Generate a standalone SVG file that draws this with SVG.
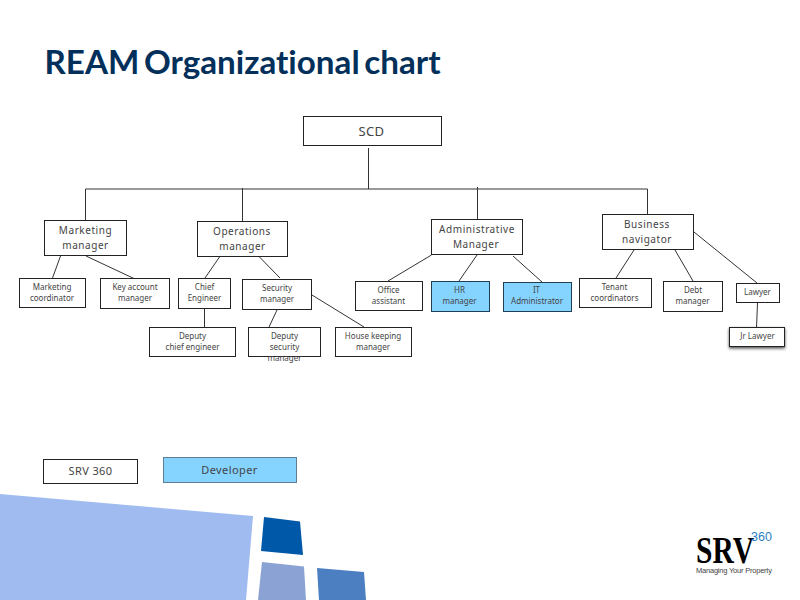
<svg xmlns="http://www.w3.org/2000/svg" width="800" height="600" viewBox="0 0 800 600">
<style>
.b{fill:#fff;stroke:#222;stroke-width:1}
.h{fill:#85d3ff;stroke:#1f3f55;stroke-width:1}
.c{fill:none;stroke:#333;stroke-width:1}
text{font-family:"Noto Sans","DejaVu Sans",sans-serif;fill:#444;text-anchor:middle}
.s{font-size:8px}
.m{font-size:10px;letter-spacing:.55px}
.l{font-size:12px;letter-spacing:.4px}
</style>
<defs><filter id="sh" x="-20%" y="-40%" width="140%" height="200%"><feDropShadow dx="0" dy="1.500" stdDeviation="1.500" flood-color="#000" flood-opacity=".7"/></filter></defs>
<rect width="800" height="600" fill="#fff"/>
<text x="44.500" y="73.500" style="font-family:Lato,'Liberation Sans',sans-serif;font-weight:700;font-size:33.200px;fill:#03305a;text-anchor:start;font-variant-ligatures:none;word-spacing:-3.500px">REAM Organizational chart</text>
<g id="connectors" class="c">
<path d="M368.500 148V189M85.500 189H647.500M85.500 189V220M242.500 188V221M477.500 187V219M647.500 189V214"/>
<path d="M60.500 256L52.500 278M86 256L135 279M219.500 257L205 278M258.500 256L280 278M204.500 309V328M277 310L269 327M312 295L364 327"/>
<path d="M431.500 255L388 281M477 255L459 281M513 256L542 282M634 250L616 278M675 250L693 281M694 232L757 283M757.500 303L756.500 328"/>
</g>
<g id="scd"><rect class="b" x="303.500" y="116.500" width="138" height="29"/><text class="l" style="font-size:13px" x="371.500" y="136">SCD</text></g>
<g id="marketing-manager"><rect class="b" x="44.500" y="220.500" width="82" height="35"/><text class="m" x="85.500" y="234">Marketing</text><text class="m" x="85.500" y="249">manager</text></g>
<g id="operations-manager"><rect class="b" x="197.500" y="221.500" width="90" height="35"/><text class="m" x="242" y="235">Operations</text><text class="m" x="242.500" y="250">manager</text></g>
<g id="administrative-manager"><rect class="b" x="431.500" y="219.500" width="91" height="35"/><text class="m" x="477" y="233">Administrative</text><text class="m" x="476" y="248">Manager</text></g>
<g id="business-navigator"><rect class="b" x="602.500" y="214.500" width="91" height="35"/><text class="m" x="647" y="228">Business</text><text class="m" x="647" y="243">navigator</text></g>
<g id="marketing-coordinator"><rect class="b" x="19.500" y="278.500" width="66" height="29"/><text class="s" x="52" y="290">Marketing</text><text class="s" x="52" y="301">coordinator</text></g>
<g id="key-account-manager"><rect class="b" x="100.500" y="278.500" width="69" height="30"/><text class="s" x="135" y="290">Key account</text><text class="s" x="135" y="301">manager</text></g>
<g id="chief-engineer"><rect class="b" x="178.500" y="278.500" width="52" height="30"/><text class="s" x="204.500" y="290">Chief</text><text class="s" x="204.500" y="301">Engineer</text></g>
<g id="security-manager"><rect class="b" x="242.500" y="279.500" width="69" height="30"/><text class="s" x="277" y="291">Security</text><text class="s" x="277" y="302">manager</text></g>
<g id="deputy-chief-engineer"><rect class="b" x="149.500" y="327.500" width="86" height="29"/><text class="s" x="192.500" y="339">Deputy</text><text class="s" x="192.500" y="350">chief engineer</text></g>
<g id="deputy-security-manager"><rect class="b" x="248.500" y="327.500" width="72" height="29"/><text class="s" x="284.500" y="339">Deputy</text><text class="s" x="284.500" y="350">security</text><text class="s" x="284.500" y="361">manager</text></g>
<g id="house-keeping-manager"><rect class="b" x="335.500" y="327.500" width="76" height="29"/><text class="s" x="373" y="339">House keeping</text><text class="s" x="373" y="350">manager</text></g>
<g id="office-assistant"><rect class="b" x="355.500" y="281.500" width="67" height="29"/><text class="s" x="388.500" y="293">Office</text><text class="s" x="388.500" y="304">assistant</text></g>
<g id="hr-manager"><rect class="h" x="431.500" y="281.500" width="58" height="30"/><text class="s" x="459.500" y="293">HR</text><text class="s" x="459.500" y="304">manager</text></g>
<g id="it-administrator"><rect class="h" x="503.500" y="282.500" width="68" height="29"/><text class="s" x="536.500" y="293">IT</text><text class="s" x="537" y="304">Administrator</text></g>
<g id="tenant-coordinators"><rect class="b" x="579.500" y="278.500" width="72" height="29"/><text class="s" x="614.500" y="290">Tenant</text><text class="s" x="614.500" y="301">coordinators</text></g>
<g id="debt-manager"><rect class="b" x="663.500" y="281.500" width="59" height="30"/><text class="s" x="693" y="293">Debt</text><text class="s" x="692.500" y="304">manager</text></g>
<g id="lawyer"><rect class="b" x="736.500" y="283.500" width="43" height="19"/><text class="s" x="757.500" y="295">Lawyer</text></g>
<g id="jr-lawyer"><rect class="b" filter="url(#sh)" x="729.500" y="327.500" width="55" height="19"/><text class="s" x="757.500" y="339">Jr Lawyer</text></g>
<g id="srv-360"><rect class="b" x="43.500" y="459.500" width="94" height="24"/><text class="l" style="font-size:11px" x="90.500" y="475">SRV 360</text></g>
<g id="developer"><rect x="163.500" y="457.500" width="133" height="25" fill="#85d3ff" stroke="#5f7d90"/><text class="l" style="font-size:11px" x="229.500" y="474">Developer</text></g>
<polygon points="0,494 253,516 246,600 0,600" fill="#a0bbef"/>
<polygon points="264,517 300,521.500 303,555 261,551" fill="#0058a8"/>
<polygon points="262,562 304,566.500 306,600 258,600" fill="#8aa3d4"/>
<polygon points="317,568 364,572 366,600 319,600" fill="#4c7fc2"/>
<text x="696" y="563" style="font-family:'Liberation Serif',serif;font-weight:700;font-size:38px;fill:#000;text-anchor:start" textLength="58" lengthAdjust="spacingAndGlyphs">SRV</text>
<text x="751" y="541" style="font-family:'Liberation Sans',sans-serif;font-size:12.500px;fill:#2f7fc1;text-anchor:start" textLength="21">360</text>
<text x="696" y="573" style="font-family:'Liberation Sans',sans-serif;font-size:7.500px;fill:#444;text-anchor:start" textLength="76">Managing Your Property</text>
</svg>
